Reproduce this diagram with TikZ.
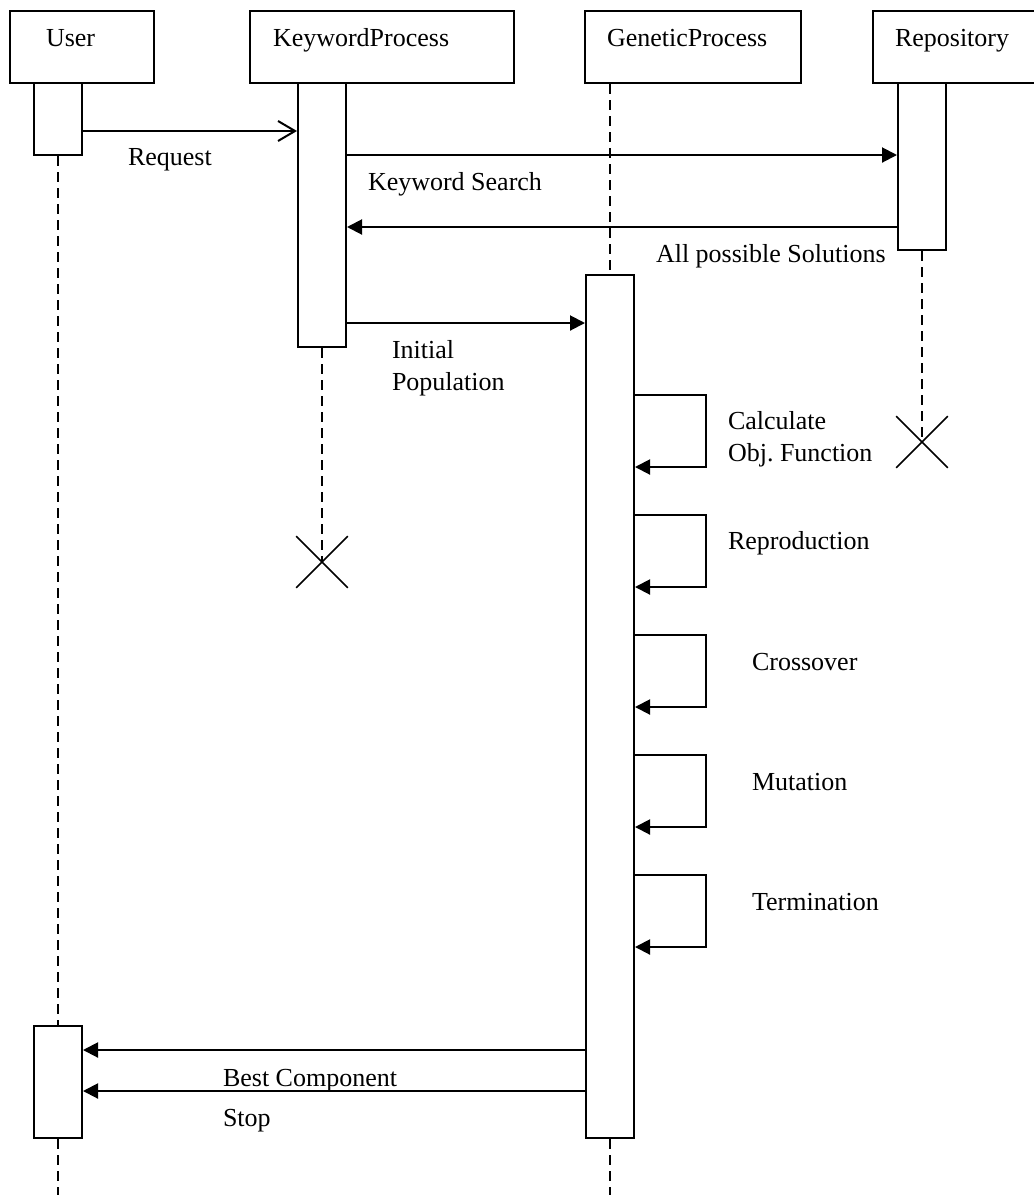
\documentclass[tikz,border=0pt]{standalone}
\usepackage{fontspec}
\setmainfont{Liberation Serif}
\usetikzlibrary{arrows.meta,shapes.misc}
\frenchspacing
\begin{document}
\begin{tikzpicture}[x=1pt,y=-1pt,
  every node/.style={font=\fontsize{26}{32}\selectfont, inner sep=0pt},
  line width=2pt,
  objbox/.style={draw, rectangle, inner sep=0pt, minimum height=72pt},
  actbox/.style={draw, fill=white, rectangle, inner sep=0pt, minimum width=48pt},
  lifeline/.style={dash pattern=on 10pt off 6pt, line width=1.7pt},
  msg/.style={-{Triangle[length=15pt,width=15pt]}},
  msgopen/.style={-{Straight Barb[length=17pt,width=20pt]}},
  lbl/.style={anchor=base west},
  endmark/.style={draw, cross out, minimum size=50pt, line width=1.6pt}
]
\useasboundingbox (0,0) rectangle (1034,1195);
\clip (0,0) rectangle (1034,1195);
% object boxes
\node[objbox, minimum width=144pt] (user) at (82,47) {};
\node[objbox, minimum width=264pt] (kp) at (382,47) {};
\node[objbox, minimum width=216pt] (gp) at (693,47) {};
\node[objbox, minimum width=187pt] (repo) at (966.5,47) {};
\node[lbl] (tuser) at (45,46) {User};
\node[lbl] (tkp) at (272,46) {KeywordProcess};
\node[lbl] (tgp) at (606,46) {GeneticProcess};
\node[lbl] (trepo) at (894,46) {Repository};
% activations
\node[actbox, minimum height=72pt] (ua1) at (58,119) {};
\node[actbox, minimum height=264pt] (ka) at (322,215) {};
\node[actbox, minimum height=863pt] (ga) at (610,706.5) {};
\node[actbox, minimum height=167pt] (ra) at (922,166.5) {};
\node[actbox, minimum height=112pt] (ua2) at (58,1082) {};
% end marks
\node[endmark] (kx) at (322,562) {};
\node[endmark] (rx) at (922,442) {};
\coordinate (uend) at (58,1195);
\coordinate (gend) at (610,1195);
% lifelines
\draw[lifeline] (ua1.south) -- (ua2.north);
\draw[lifeline] (ua2.south) -- (uend);
\draw[lifeline] (ka.south) -- (kx.center);
\draw[lifeline] (ga.north |- gp.south) -- (ga.north);
\draw[lifeline] (ga.south) -- (gend);
\draw[lifeline] (ra.south) -- (rx.center);
% messages
\draw[msgopen] (ua1.east |- 0,131) -- (ka.west |- 0,131);
\node[lbl] (lreq) at (127,165) {Request};
\draw[msg] (ka.east |- 0,155) -- (ra.west |- 0,155);
\node[lbl] (lks) at (367,190) {Keyword Search};
\draw[msg] (ra.west |- 0,227) -- (ka.east |- 0,227);
\node[lbl] (lap) at (655,262) {All possible Solutions};
\draw[msg] (ka.east |- 0,323) -- (ga.west |- 0,323);
\node[lbl] (lip) at (391,358) {\begin{tabular}[t]{@{}l@{}}Initial\\Population\end{tabular}};
% self messages
\draw[msg] (ga.east |- 0,395) -- (706,395) -- (706,467) -- (ga.east |- 0,467);
\node[lbl] (lcalc) at (727,429) {\begin{tabular}[t]{@{}l@{}}Calculate\\Obj. Function\end{tabular}};
\draw[msg] (ga.east |- 0,515) -- (706,515) -- (706,587) -- (ga.east |- 0,587);
\node[lbl] (lrep) at (727,549) {Reproduction};
\draw[msg] (ga.east |- 0,635) -- (706,635) -- (706,707) -- (ga.east |- 0,707);
\node[lbl] (lcross) at (751,670) {Crossover};
\draw[msg] (ga.east |- 0,755) -- (706,755) -- (706,827) -- (ga.east |- 0,827);
\node[lbl] (lmut) at (751,790) {Mutation};
\draw[msg] (ga.east |- 0,875) -- (706,875) -- (706,947) -- (ga.east |- 0,947);
\node[lbl] (lterm) at (751,910) {Termination};
% returns
\draw[msg] (ga.west |- 0,1050) -- (ua2.east |- 0,1050);
\node[lbl] (lbest) at (222,1086) {Best Component};
\draw[msg] (ga.west |- 0,1091) -- (ua2.east |- 0,1091);
\node[lbl] (lstop) at (222,1126) {Stop};
\end{tikzpicture}
\end{document}
